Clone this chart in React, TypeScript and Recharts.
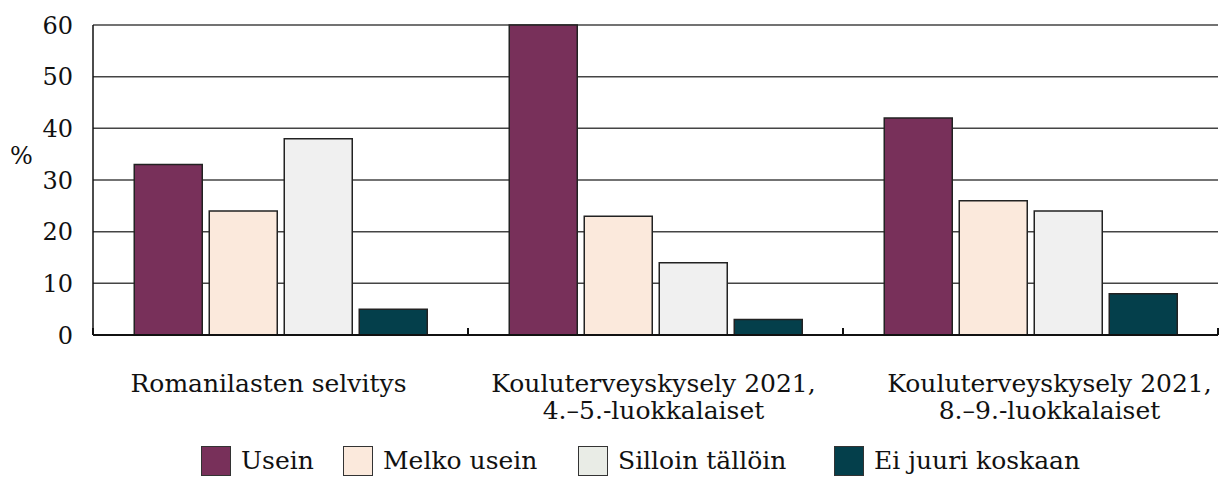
import React from 'react';
import { BarChart, Bar, XAxis, YAxis, CartesianGrid } from 'recharts';

const categories = ['Romanilasten selvitys', 'Kouluterveyskysely 2021,\n4.–5.-luokkalaiset', 'Kouluterveyskysely 2021,\n8.–9.-luokkalaiset'];
const usein = [33, 60, 42];
const melkoUsein = [24, 23, 26];
const silloinTalloin = [38, 14, 24];
const eiJuuriKoskaan = [5, 3, 8];
const yTicks = [0, 10, 20, 30, 40, 50, 60];

const seriesDefs = [
  { key: 'usein', name: 'Usein', color: '#78305a', legendColor: '#78305a' },
  { key: 'melko', name: 'Melko usein', color: '#fbe9dc', legendColor: '#fbe9dc' },
  { key: 'silloin', name: 'Silloin tällöin', color: '#f0f0f0', legendColor: '#e9ece6' },
  { key: 'ei', name: 'Ei juuri koskaan', color: '#043f4b', legendColor: '#043f4b' },
];
const legendItemWidths = [142, 235, 256, 260];

const data = categories.map((c, i) => ({
  cat: c,
  usein: usein[i],
  melko: melkoUsein[i],
  silloin: silloinTalloin[i],
  ei: eiJuuriKoskaan[i],
}));

const FONT = '"DejaVu Serif", "Liberation Serif", serif';
const labelShift = [-12, -2, 19];

const CatTick = (props: any) => {
  const { x, y, payload, index, width, visibleTicksCount } = props;
  const lines = String(payload.value).split('\n');
  const cx = x + (labelShift[index] || 0);
  const half =
    typeof payload.offset === 'number' && payload.offset > 0
      ? payload.offset
      : (width || 0) / (visibleTicksCount || 1) / 2;
  const last = index === (visibleTicksCount || 0) - 1;
  return (
    <g>
      <line x1={x - half} x2={x - half} y1={y} y2={y - 7} stroke="#111" strokeWidth={2} />
      {last && <line x1={x + half} x2={x + half} y1={y} y2={y - 7} stroke="#111" strokeWidth={2} />}
      <text x={cx} y={y} textAnchor="middle" fontFamily={FONT} fontSize={25} fill="#111">
        {lines.map((l, i) => (
          <tspan key={i} x={cx} dy={i === 0 ? 57 : 27}>{l}</tspan>
        ))}
      </text>
    </g>
  );
};

export default function App() {
  return (
    <div style={{ position: 'absolute', left: 0, top: 0, width: 1220, height: 477, background: '#fff' }}>
      <BarChart
        width={1220}
        height={477}
        data={data}
        margin={{ top: 25, right: 2, left: 0, bottom: 47 }}
        barCategoryGap="11%"
        barGap={7}
      >
        <CartesianGrid vertical={false} stroke="#444" strokeWidth={1.5} strokeOpacity={1} />
        <XAxis
          dataKey="cat"
          interval={0}
          tick={<CatTick />}
          tickLine={false}
          tickSize={0}
          tickMargin={0}
          axisLine={{ stroke: '#111', strokeWidth: 2 }}
          height={95}
        />
        <YAxis
          domain={[0, 60]}
          ticks={yTicks}
          width={93}
          tickLine={false}
          axisLine={{ stroke: '#111', strokeWidth: 1.5 }}
          tick={{ fontFamily: FONT, fontSize: 24, fill: '#111' }}
          tickMargin={14}
          label={{ value: '%', position: 'insideLeft', offset: 10, dy: -25, fontFamily: FONT, fontSize: 24, fill: '#111' }}
        />
        {seriesDefs.map((s) => (
          <Bar key={s.key} dataKey={s.key} name={s.name} fill={s.color} stroke="#222" strokeWidth={1.5} isAnimationActive={false} />
        ))}
      </BarChart>
      <div
        style={{
          position: 'absolute',
          left: 201,
          top: 446,
          display: 'flex',
          alignItems: 'center',
          fontFamily: FONT,
          fontSize: 25,
          color: '#111',
        }}
      >
        {seriesDefs.map((s, i) => (
          <div key={s.key} style={{ display: 'flex', alignItems: 'center', width: legendItemWidths[i], flex: 'none', whiteSpace: 'nowrap' }}>
            <div style={{ width: 30, height: 30, background: s.legendColor, border: '1.5px solid #333', boxSizing: 'border-box', marginRight: 10, flex: 'none' }} />
            <span style={{ lineHeight: '30px' }}>{s.name}</span>
          </div>
        ))}
      </div>
    </div>
  );
}
